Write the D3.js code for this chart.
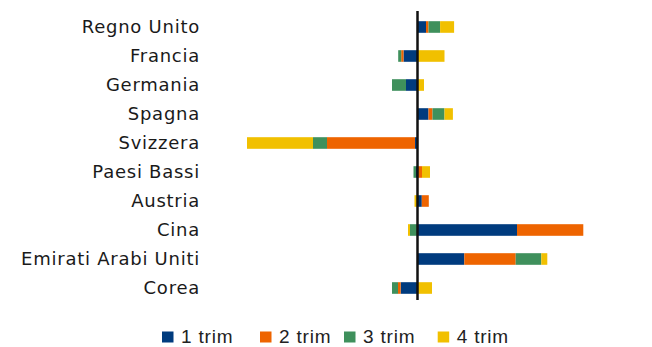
<!DOCTYPE html>
<html>
<head>
<meta charset="utf-8">
<script src="https://cdn.jsdelivr.net/npm/d3@7"></script>
<style>
  html, body { margin: 0; padding: 0; background: #fff; }
  svg { display: block; }
</style>
</head>
<body>
<svg id="chart" width="652" height="347"></svg>
<script>
// Paesi e variazioni trimestrali (stesso ordine delle serie)
const categories = ["Regno Unito", "Francia", "Germania", "Spagna", "Svizzera",
                    "Paesi Bassi", "Austria", "Cina", "Emirati Arabi Uniti", "Corea"];
const seriesNames = ["1 trim", "2 trim", "3 trim", "4 trim"];
const trim1 = [8.5, -14, -11.5, 11, -2.5, -1.5, 4.3, 99.5, 46.8, -16.8];
const trim2 = [2.5, -2.3, 0, 4, -88, 4.5, 7, 66.3, 51.4, -2.7];
const trim3 = [11.6, -3, -14, 12, -14, -2.5, 0, -7.5, 25.6, -6];
const trim4 = [14, 27, 6.5, 8.4, -66, 8, -3, -2, 6, 14.5];
const colors = ["#003B7E", "#EE6400", "#3F905C", "#F1C000"];

const rows = categories.map((c, i) => ({
  cat: c,
  "1 trim": trim1[i], "2 trim": trim2[i], "3 trim": trim3[i], "4 trim": trim4[i]
}));

const svg = d3.select("#chart");

const x = d3.scaleLinear().domain([-200, 200]).range([217.5, 617.5]);
const y = d3.scaleBand().domain(categories).range([12.5, 302.5])
  .paddingInner(0.6).paddingOuter(0.3);

const stacked = d3.stack()
  .keys(seriesNames)
  .offset(d3.stackOffsetDiverging)(rows);

svg.append("g").selectAll("g")
  .data(stacked)
  .join("g")
  .attr("fill", (d, i) => colors[i])
  .selectAll("rect")
  .data(d => d)
  .join("rect")
  .attr("x", d => x(Math.min(d[0], d[1])))
  .attr("width", d => Math.abs(x(d[1]) - x(d[0])))
  .attr("y", d => y(d.data.cat))
  .attr("height", y.bandwidth());

// asse dello zero
svg.append("line")
  .attr("x1", x(0)).attr("x2", x(0))
  .attr("y1", 11).attr("y2", 300)
  .attr("stroke", "#111").attr("stroke-width", 2.5);

// etichette dei paesi
svg.append("g").selectAll("text")
  .data(categories)
  .join("text")
  .attr("x", 200)
  .attr("y", d => y(d) + y.bandwidth() / 2)
  .attr("dy", "0.36em")
  .attr("text-anchor", "end")
  .attr("font-family", "'DejaVu Sans', sans-serif")
  .attr("font-size", 18)
  .attr("letter-spacing", 0.75)
  .attr("fill", "#1a1a1a")
  .text(d => d);

// legenda
const legendX = [162, 260, 344, 437.7];
const legend = svg.append("g").selectAll("g")
  .data(seriesNames)
  .join("g")
  .attr("transform", (d, i) => `translate(${legendX[i]},331.5)`);
legend.append("rect")
  .attr("width", 11.5).attr("height", 11)
  .attr("fill", (d, i) => colors[i]);
legend.append("text")
  .attr("x", 19)
  .attr("y", 5)
  .attr("dy", "0.36em")
  .attr("font-family", "'Liberation Sans', Arial, sans-serif")
  .attr("font-size", 19)
  .attr("letter-spacing", 0.8)
  .attr("fill", "#222")
  .text(d => d);
</script>
</body>
</html>
